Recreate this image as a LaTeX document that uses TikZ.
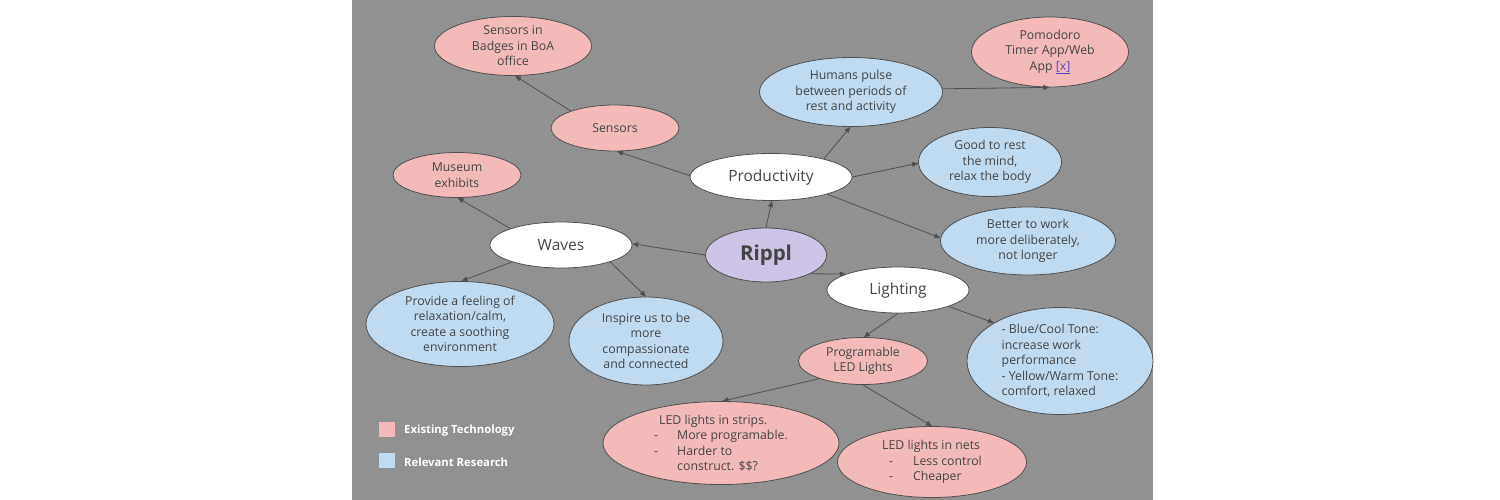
\documentclass[tikz,border=0pt]{standalone}
\usepackage{fontspec}
\setmainfont{Open Sans}
\usetikzlibrary{shapes.geometric,arrows.meta}
\definecolor{bggray}{RGB}{145,145,145}
\definecolor{pinkf}{RGB}{244,186,186}
\definecolor{bluef}{RGB}{192,218,240}
\definecolor{lavf}{RGB}{205,196,230}
\definecolor{edgec}{RGB}{80,80,80}
\definecolor{txt}{RGB}{68,68,68}
\definecolor{linkc}{RGB}{80,70,200}
\begin{document}
\begin{tikzpicture}[x=1pt,y=-1pt,
  bub/.style={ellipse, draw=edgec, line width=0.8pt, inner sep=0pt, text=txt,
    font=\fontsize{12.3}{15.5}\selectfont, align=center},
  sz/.style 2 args={minimum width=#1pt, minimum height=#2pt},
  tech/.style={bub, fill=pinkf},
  research/.style={bub, fill=bluef},
  topic/.style={bub, fill=white, font=\fontsize{15.5}{19}\selectfont},
  core/.style={bub, fill=lavf, font=\bfseries\fontsize{20.5}{24}\selectfont},
  conn/.style={draw=edgec, line width=0.8pt, -{Triangle[length=6pt,width=5pt]}},
  legsq/.style={draw=none, inner sep=0pt, minimum width=16pt, minimum height=15pt},
  legtxt/.style={anchor=west, inner sep=0pt, text=white, font=\bfseries\fontsize{11.3}{14}\selectfont}
]
\fill[white] (0,0) rectangle (1500,500);
\useasboundingbox (0,0) rectangle (1500,500);
\fill[bggray] (352,0) rectangle (1153,500);

% nodes
\node[core, sz={121}{54}] (rippl) at (766,255) {Rippl};
\node[topic, sz={162}{47}] (prod) at (771,177) {Productivity};
\node[topic, sz={142}{46}] (waves) at (561,245) {Waves};
\node[topic, sz={142}{46}] (light) at (898,290) {Lighting};

\node[tech, sz={157}{59}] (badges) at (513,46) {Sensors in\\Badges in BoA\\office};
\node[tech, sz={128}{46}] (sensors) at (615,128) {Sensors};
\node[tech, sz={128}{45}] (museum) at (457,175) {Museum\\exhibits};
\node[tech, sz={157}{70}] (pomo) at (1050,52) {Pomodoro\\Timer App/Web\\App \textcolor{linkc}{\underline{[x]}}};
\node[tech, sz={129}{47}] (prog) at (863,361) {Programable\\LED Lights};
\node[tech, sz={236}{83}, align=left] (strips) at (721,443)
  {\hspace*{5pt}LED lights in strips.\\-\hspace{19pt}More programable.\\-\hspace{19pt}Harder to\\\hspace*{23pt}construct. \$\$?};
\node[tech, sz={189}{71}, align=left] (nets) at (932,462)
  {LED lights in nets\\\hspace*{7pt}-\hspace{20pt}Less control\\\hspace*{7pt}-\hspace{20pt}Cheaper};

\node[research, sz={183}{69}] (humans) at (851,92) {Humans pulse\\between periods of\\rest and activity};
\node[research, sz={143}{69}] (good) at (990,162) {Good to rest\\the mind,\\relax the body};
\node[research, sz={175}{68}] (better) at (1028,241) {Better to work\\more deliberately,\\not longer};
\node[research, sz={188}{85}] (provide) at (460,324) {Provide a feeling of\\relaxation/calm,\\create a soothing\\environment};
\node[research, sz={154}{88}] (inspire) at (646,341) {Inspire us to be\\more\\compassionate\\and connected};
\node[research, sz={186}{107}, align=left] (tone) at (1060,361)
  {- Blue/Cool Tone:\\increase work\\performance\\- Yellow/Warm Tone:\\comfort, relaxed};

% legend
\node[legsq, fill=pinkf] (lgp) at (387,429) {};
\node[legsq, fill=bluef] (lgb) at (387,460) {};
\node[legtxt] (lgpt) at (404,431) {Existing Technology};
\node[legtxt] (lgbt) at (404,462) {Relevant Research};

% connectors
\draw[conn] (rippl.90) -- (prod.-88);
\draw[conn] (rippl.180) -- (waves.1);
\draw[conn] (rippl.-23) -- (light.163);
\draw[conn] (sensors.159) -- (badges.-86);
\draw[conn] (prod.179) -- (sensors.-85);
\draw[conn] (waves.162) -- (museum.-88);
\draw[conn] (prod.19) -- (humans.-91);
\draw[conn] (humans.2) -- (pomo.-91);
\draw[conn] (prod.0) -- (good.181);
\draw[conn] (prod.-17) -- (better.178);
\draw[conn] (waves.199) -- (provide.88);
\draw[conn] (waves.-19) -- (inspire.90);
\draw[conn] (light.-90) -- (prog.88);
\draw[conn] (light.-18) -- (tone.150);
\draw[conn] (prog.202) -- (strips.88);
\draw[conn] (prog.-90) -- (nets.90);
\end{tikzpicture}
\end{document}
